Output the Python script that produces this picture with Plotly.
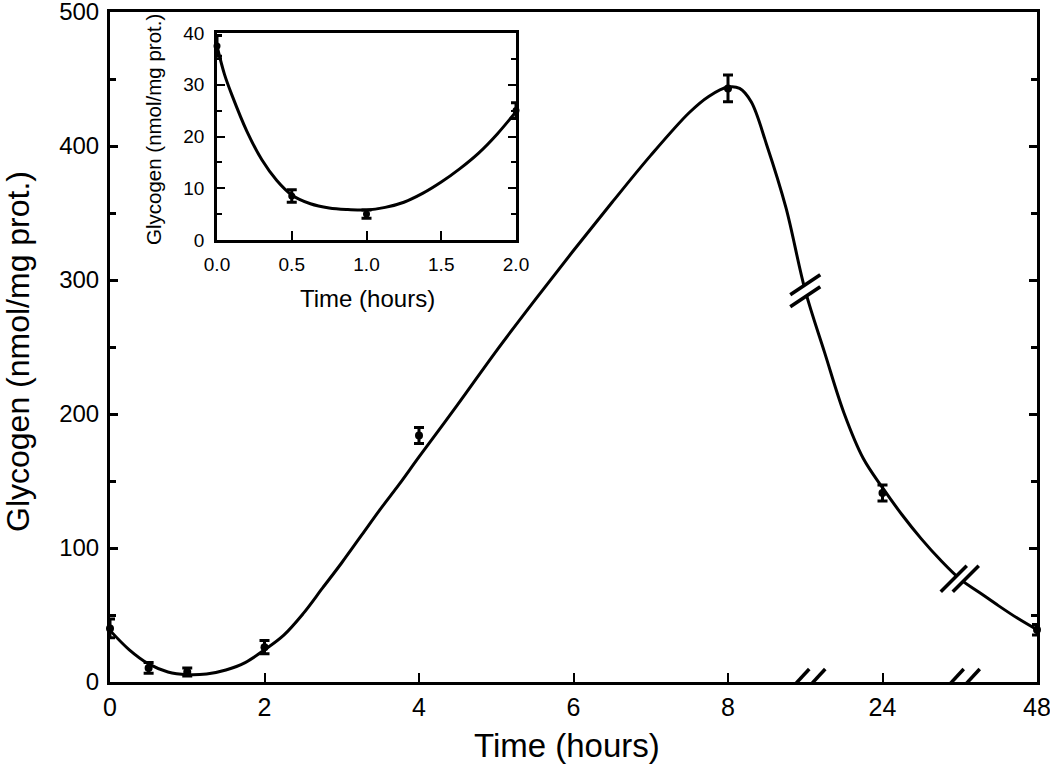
import numpy as np
import plotly.graph_objects as go

# ---------------- data ----------------
# Main panel: broken time axis. Axis positions 0..8 are hours; 24 h and 48 h sit at positions 10 and 12.
tick_pos = [0, 2, 4, 6, 8, 10, 12]
tick_text = ["0", "2", "4", "6", "8", "24", "48"]

main_pos = [0, 0.5, 1, 2, 4, 8, 10, 12]          # sample times 0,0.5,1,2,4,8,24,48 h
main_val = [40, 10.5, 7.5, 26, 184, 443, 141, 39]
main_err = [7, 4, 3, 5, 6, 10, 6, 4]

# fitted curve (axis position, glycogen)
fit_pos = [0, 0.25, 0.5, 0.75, 1.0, 1.25, 1.5, 1.75, 2.0, 2.25, 2.5, 2.75, 3.0, 3.25,
           3.5, 3.75, 4.0, 4.5, 5.0, 5.5, 6.0, 6.5, 7.0, 7.5, 7.75, 8.0, 8.15, 8.3,
           8.5, 8.75, 9.0, 9.25, 9.5, 9.75, 10.0, 10.25, 10.5, 10.75, 11.0, 11.25,
           11.5, 11.75, 12.0]
fit_val = [38.5, 24, 13.5, 7.5, 5.5, 6, 9, 14.5, 24, 35, 51, 70, 89, 109,
           129, 148, 168, 207, 247, 285, 322, 358, 393, 425, 437, 444, 443, 433,
           401, 354, 292, 246, 201, 167, 145, 125, 107, 91, 77, 67,
           57, 47.5, 39]

axis_breaks = [9, 11]       # where the time axis is broken (axis positions)

# Inset: first two hours
inset_t = [0.0, 0.5, 1.0, 2.0]
inset_val = [37.5, 8.5, 5.0, 25.0]
inset_err = [2.0, 1.2, 0.8, 1.5]
inset_fit_t = [0.0, 0.05, 0.1, 0.2, 0.3, 0.4, 0.5, 0.625, 0.75, 0.875, 1.0, 1.125,
               1.25, 1.375, 1.5, 1.625, 1.75, 1.875, 2.0]
inset_fit_v = [37.5, 32, 28, 21, 15.5, 11.5, 8.7, 7.0, 6.2, 5.9, 5.8, 6.3,
               7.3, 9.0, 11.2, 13.8, 16.8, 20.5, 24.8]

FONT = "Liberation Sans, Arial, sans-serif"

fig = go.Figure()

# main fitted curve
fig.add_trace(go.Scatter(x=fit_pos, y=fit_val, mode="lines",
                         line=dict(color="black", width=3, shape="spline", smoothing=1),
                         hoverinfo="skip", showlegend=False, cliponaxis=False))
# main data with error bars
fig.add_trace(go.Scatter(x=main_pos, y=main_val, mode="markers",
                         marker=dict(color="black", size=8),
                         error_y=dict(type="data", array=main_err, color="black",
                                      thickness=3, width=5),
                         showlegend=False, cliponaxis=False))

# inset curve and data
fig.add_trace(go.Scatter(x=inset_fit_t, y=inset_fit_v, mode="lines", xaxis="x2", yaxis="y2",
                         line=dict(color="black", width=3, shape="spline", smoothing=1),
                         hoverinfo="skip", showlegend=False, cliponaxis=False))
fig.add_trace(go.Scatter(x=inset_t, y=inset_val, mode="markers", xaxis="x2", yaxis="y2",
                         marker=dict(color="black", size=7),
                         error_y=dict(type="data", array=inset_err, color="black",
                                      thickness=3, width=5),
                         showlegend=False, cliponaxis=False))

# ---------------- axis-break marks ----------------
shapes = []

def slash_pair(xa, ya, half, sep, xref="x", yref="y"):
    """Two parallel slashes (pixel sized) anchored at data point (xa, ya), with a white gap between."""
    hx, hy = half
    sx, sy = sep
    k = 0.8
    pts = [(-sx - hx * k, -sy - hy * k), (sx - hx * k, sy - hy * k),
           (sx + hx * k, sy + hy * k), (-sx + hx * k, -sy + hy * k)]
    path = "M " + " L ".join(f"{p[0]:.1f},{p[1]:.1f}" for p in pts) + " Z"
    shapes.append(dict(type="path", xref=xref, yref=yref, xsizemode="pixel",
                       ysizemode="pixel", xanchor=xa, yanchor=ya, path=path,
                       fillcolor="white", line=dict(width=0), layer="above"))
    for s in (-1, 1):
        cx, cy = s * sx, s * sy
        shapes.append(dict(type="line", xref=xref, yref=yref, xsizemode="pixel",
                           ysizemode="pixel", xanchor=xa, yanchor=ya,
                           x0=cx - hx, y0=cy - hy, x1=cx + hx, y1=cy + hy,
                           line=dict(color="black", width=3.5), layer="above"))

# breaks on the time axis
for bx in axis_breaks:
    slash_pair(bx, 0, (12, 13), (8, 0))
# breaks on the curve
slash_pair(axis_breaks[0], float(np.interp(axis_breaks[0], fit_pos, fit_val)), (15, 10), (0, 6))
slash_pair(axis_breaks[1], float(np.interp(axis_breaks[1], fit_pos, fit_val)), (13, 13), (6, 0))

# ---------------- layout ----------------
PX_L, PX_R, PX_T, PX_B = 110, 1037, 12, 682
W, H = 1050, 767

def px2paper(px, py):
    return (px - PX_L) / (PX_R - PX_L), (PX_B - py) / (PX_B - PX_T)

ix0, iy0 = px2paper(217, 240)
ix1, iy1 = px2paper(516, 33)

annotations = []
def add_title(text, px, py, size, angle=0):
    x, y = px2paper(px, py)
    annotations.append(dict(text=text, x=x, y=y, xref="paper", yref="paper",
                            xanchor="center", yanchor="middle", showarrow=False,
                            textangle=angle, font=dict(family=FONT, size=size, color="black")))

add_title("Time (hours)", 567, 745, 33)
add_title("Glycogen (nmol/mg prot.)", 18, 352, 32, -90)
add_title("Time (hours)", 367, 298, 24)
add_title("Glycogen (nmol/mg prot.)", 153, 130, 20.5, -90)

axis_common = dict(showline=True, linecolor="black", showgrid=False, zeroline=False,
                   ticks="inside", tickcolor="black", automargin=False,
                   ticklabeloverflow="allow",
                   tickfont=dict(family=FONT, color="black"))

fig.update_layout(
    width=W, height=H,
    margin=dict(l=PX_L, r=W - PX_R, t=PX_T, b=H - PX_B, autoexpand=False),
    paper_bgcolor="white", plot_bgcolor="white",
    font=dict(family=FONT, color="black"),
    showlegend=False,
    xaxis=dict(**axis_common, range=[0, 12], tickmode="array", tickvals=tick_pos,
               ticktext=tick_text, ticklen=9, tickwidth=2, linewidth=3, mirror=True,
               ticklabelstandoff=1, tickfont_size=25),
    yaxis=dict(**axis_common, range=[0, 500], tickmode="array",
               tickvals=[0, 100, 200, 300, 400, 500], ticklen=8, tickwidth=2.5,
               linewidth=3, mirror="ticks", ticklabelstandoff=3, tickfont_size=24,
               minor=dict(ticks="inside", dtick=50, tick0=0, ticklen=6, tickwidth=2.5,
                          tickcolor="black", showgrid=False)),
    xaxis2=dict(**axis_common, domain=[ix0, ix1], anchor="y2", range=[0, 2],
                tickvals=[0, 0.5, 1.0, 1.5, 2.0], ticktext=["0.0", "0.5", "1.0", "1.5", "2.0"],
                ticklen=9, tickwidth=2, linewidth=2.5, mirror=True,
                ticklabelstandoff=5, tickfont_size=19),
    yaxis2=dict(**axis_common, domain=[iy0, iy1], anchor="x2", range=[0, 40],
                tickvals=[0, 10, 20, 30, 40], ticklen=8, tickwidth=2, linewidth=2.5,
                mirror="ticks", ticklabelstandoff=6, tickfont_size=19,
                minor=dict(ticks="inside", dtick=5, tick0=0, ticklen=5, tickwidth=2,
                           tickcolor="black", showgrid=False)),
    shapes=shapes,
    annotations=annotations,
)

fig.write_html("out.html", config={"displayModeBar": False},
               post_script="document.body.style.margin='0';document.body.style.overflow='hidden';")
